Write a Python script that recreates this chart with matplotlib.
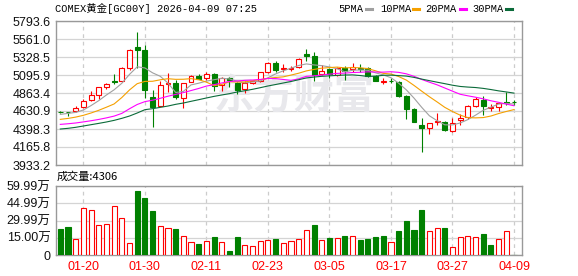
import matplotlib
matplotlib.use('Agg')
import matplotlib.pyplot as plt
from matplotlib.lines import Line2D

# --- data (COMEX gold daily candles) ---
opens = [4622, 4616, 4631, 4682, 4777, 4842, 4945, 5014, 5018, 5182,
         5457, 5419, 4807, 4700, 4975, 4988, 4803, 5010, 5087, 5053,
         5104, 4967, 5062, 4988, 4911, 4992, 5018, 5139, 5251, 5177,
         5177, 5203, 5363, 5341, 5113, 5169, 5096, 5182, 5169, 5190,
         5190, 5083, 5010, 5018, 5010, 4825, 4656, 4450, 4415, 4493,
         4493, 4372, 4514, 4549, 4695, 4773, 4674, 4686, 4742, 4745]
highs = [4635, 4618, 4691, 4781, 4889, 4941, 4993, 5109, 5199, 5427,
         5647, 5483, 4898, 5023, 5117, 5031, 4988, 5096, 5109, 5139,
         5117, 5074, 5074, 5010, 5018, 5036, 5139, 5268, 5281, 5234,
         5216, 5311, 5432, 5397, 5225, 5190, 5195, 5212, 5255, 5234,
         5203, 5096, 5053, 5053, 5018, 4837, 4665, 4545, 4480, 4600,
         4501, 4536, 4587, 4708, 4816, 4825, 4721, 4738, 4880, 4768]
lows = [4600, 4560, 4613, 4665, 4760, 4786, 4915, 4984, 5010, 5160,
        5182, 4794, 4428, 4695, 4880, 4782, 4674, 5001, 5040, 5031,
        4893, 4893, 4945, 4855, 4868, 4975, 5010, 5126, 5139, 5139,
        5147, 5190, 5281, 5018, 5096, 5062, 5087, 5031, 5130, 5139,
        5066, 5018, 4979, 4988, 4816, 4523, 4493, 4099, 4330, 4450,
        4372, 4364, 4450, 4527, 4682, 4579, 4635, 4631, 4708, 4708]
closes = [4618, 4612, 4665, 4764, 4837, 4941, 4975, 5005, 5182, 5415,
          5423, 4906, 4687, 4967, 4988, 4810, 4988, 5083, 5048, 5104,
          4955, 5062, 5036, 4902, 4988, 5018, 5130, 5255, 5160, 5182,
          5190, 5303, 5346, 5096, 5147, 5109, 5182, 5152, 5203, 5169,
          5083, 5023, 5018, 5014, 4825, 4656, 4493, 4415, 4471, 4497,
          4385, 4480, 4536, 4695, 4786, 4695, 4678, 4730, 4738, 4742]

ma5 = [4587, 4600, 4613, 4644, 4701, 4765, 4838, 4905, 4989, 5104,
       5202, 5187, 5124, 5079, 4992, 4870, 4884, 4968, 4990, 5017,
       5035, 5054, 5045, 5015, 4994, 5006, 5018, 5060, 5110, 5150,
       5184, 5219, 5239, 5226, 5217, 5200, 5176, 5137, 5157, 5161,
       5156, 5124, 5097, 5061, 4990, 4904, 4797, 4678, 4569, 4506,
       4452, 4451, 4476, 4520, 4577, 4640, 4680, 4721, 4729, 4721]
ma10 = [4523, 4535, 4552, 4575, 4605, 4640, 4680, 4722, 4805, 4903,
        4984, 5013, 5015, 5034, 5048, 5040, 5041, 5049, 5035, 5004,
        4958, 4974, 5009, 5005, 5006, 5022, 5036, 5052, 5064, 5072,
        5095, 5119, 5149, 5168, 5184, 5192, 5198, 5188, 5192, 5189,
        5178, 5150, 5117, 5109, 5076, 5030, 4961, 4887, 4815, 4748,
        4678, 4624, 4577, 4545, 4542, 4546, 4566, 4598, 4625, 4649]
ma20 = [4458, 4466, 4476, 4490, 4505, 4522, 4542, 4565, 4600, 4660,
        4715, 4752, 4770, 4795, 4822, 4845, 4868, 4895, 4922, 4953,
        4971, 4993, 5012, 5019, 5027, 5031, 5038, 5051, 5049, 5038,
        5027, 5046, 5079, 5086, 5095, 5107, 5117, 5120, 5128, 5131,
        5137, 5134, 5133, 5138, 5130, 5111, 5079, 5038, 5003, 4969,
        4928, 4887, 4847, 4827, 4809, 4788, 4763, 4743, 4720, 4699]
ma30 = [4398, 4407, 4420, 4437, 4454, 4471, 4489, 4510, 4536, 4566,
        4605, 4648, 4661, 4678, 4695, 4717, 4734, 4756, 4777, 4799,
        4820, 4838, 4855, 4876, 4893, 4911, 4932, 4954, 4973, 4993,
        5012, 5035, 5058, 5069, 5079, 5085, 5091, 5096, 5097, 5089,
        5077, 5081, 5092, 5094, 5088, 5082, 5065, 5043, 5023, 5003,
        4984, 4964, 4948, 4940, 4934, 4923, 4908, 4891, 4877, 4862]

# volume in 万 lots, colour as drawn ('r' up / 'g' down)
volumes = [22.6, 24.3, 13.6, 40.6, 38.8, 26.1, 27.0, 42.3, 31.9, 10.4,
           55.7, 49.6, 38.3, 25.2, 23.2, 22.6, 16.2, 11.3, 9.6, 12.2,
           15.7, 11.3, 3.5, 15.7, 8.4, 7.5, 12.2, 13.0, 13.9, 10.4,
           12.0, 13.6, 21.4, 26.1, 12.8, 14.5, 14.5, 16.5, 16.2, 13.0,
           13.9, 15.7, 16.5, 11.3, 20.9, 29.6, 21.7, 39.1, 20.9, 23.2,
           23.5, 6.7, 15.4, 16.2, 15.4, 18.3, 8.7, 13.6, 20.6, 0.43]
vol_colors = list('ggrrrrrrrrgggrrgrrgrgrggrrrrgr'
                  'rrrgrgrgrggggrggggrrgrrrrggrrg')

price_ticks = [3933.2, 4165.8, 4398.3, 4630.9, 4863.4, 5095.9, 5328.5, 5561.0, 5793.6]
price_labels = ['3933.2', '4165.8', '4398.3', '4630.9', '4863.4', '5095.9', '5328.5', '5561.0', '5793.6']
vol_ticks = [0, 15.00, 29.99, 44.99, 59.99]
vol_labels = ['0', '15.00万', '29.99万', '44.99万', '59.99万']
date_idx = [3, 11, 19, 27, 35, 43, 51, 59]
date_labels = ['01-20', '01-30', '02-11', '02-23', '03-05', '03-17', '03-27', '04-09']

RED = '#ff0000'
GREEN = '#008000'
MA_COLORS = ['#a0a0a0', '#f5a000', '#ff00ff', '#0b6b3a']
W, H = 578, 276

plt.rcParams['font.family'] = ['Liberation Sans', 'Noto Sans CJK SC']


def px_axes(fig, left, top, right, bottom):
    """Adds axes placed by pixel edges."""
    return fig.add_axes([left / W, 1 - bottom / H, (right - left) / W, (bottom - top) / H])


def style_axes(ax):
    ax.set_xlim(-0.56, 60.04)
    for s in ax.spines.values():
        s.set_color('#999999')
        s.set_linewidth(1.0)
    ax.tick_params(length=0, pad=4, labelsize=9, colors='#111111')
    ax.yaxis.grid(True, color='#d4d4d4', lw=0.9)
    ax.set_axisbelow(True)
    for d in date_idx:
        ax.axvline(d, color='#cccccc', lw=0.9, ls=(0, (3, 3)), zorder=0)


def draw_candles(ax):
    for i in range(len(opens)):
        o, h, l, c = opens[i], highs[i], lows[i], closes[i]
        up = c >= o
        col = RED if up else GREEN
        ax.vlines(i, l, h, color=col, lw=0.8, zorder=3)
        ax.bar(i, max(abs(c - o), 2), bottom=min(o, c), width=0.64,
               color='white' if up else col, edgecolor=col, lw=0.8, zorder=4)


fig = plt.figure(figsize=(W / 100, H / 100), dpi=100)

ax1 = px_axes(fig, 56, 21, 522, 165)
style_axes(ax1)
ax1.set_ylim(3933.2, 5793.6)
ax1.set_yticks(price_ticks)
ax1.set_yticklabels(price_labels)
ax1.set_xticks([])
ax1.text(0.51, 0.47, '东方财富', transform=ax1.transAxes, ha='center', va='center',
         fontsize=29, fontweight='bold', color='#e8e8ec', family='Noto Sans CJK SC', zorder=1)
draw_candles(ax1)
x = list(range(len(closes)))
for ma, col in zip([ma5, ma10, ma20, ma30], MA_COLORS):
    ax1.plot(x, ma, color=col, lw=0.8, zorder=5)

ax2 = px_axes(fig, 56, 186, 522, 255)
style_axes(ax2)
ax2.set_ylim(0, 59.99)
ax2.set_yticks(vol_ticks)
ax2.set_yticklabels(vol_labels)
for i, v in enumerate(volumes):
    col = RED if vol_colors[i] == 'r' else GREEN
    ax2.bar(i, v, width=0.66, color='white' if col == RED else col,
            edgecolor=col, lw=0.8, zorder=3)
ax2.set_xticks(date_idx)
ax2.set_xticklabels(date_labels, color=RED)
ax2.tick_params(axis='x', pad=4)

# header texts
fig.text(55 / W, 1 - 9 / H, 'COMEX黄金[GC00Y] 2026-04-09 07:25', va='center',
         fontsize=7.5, family=['Liberation Mono', 'Noto Sans CJK SC'])
legend = [('5PMA', 338, 366), ('10PMA', 380, 413), ('20PMA', 425, 460), ('30PMA', 472, 506)]
for (name, tx, mx), col in zip(legend, MA_COLORS):
    fig.text(tx / W, 1 - 9 / H, name, va='center', fontsize=7.5, family='Liberation Mono')
    fig.add_artist(Line2D([mx / W, (mx + 6) / W], [1 - 9 / H, 1 - 9 / H], color=col, lw=2.2))
fig.text(57 / W, 1 - 177 / H, '成交量:4306', va='center', fontsize=8,
         family=['Noto Sans CJK SC', 'Liberation Sans'])

fig.savefig('out.png', dpi=100)
